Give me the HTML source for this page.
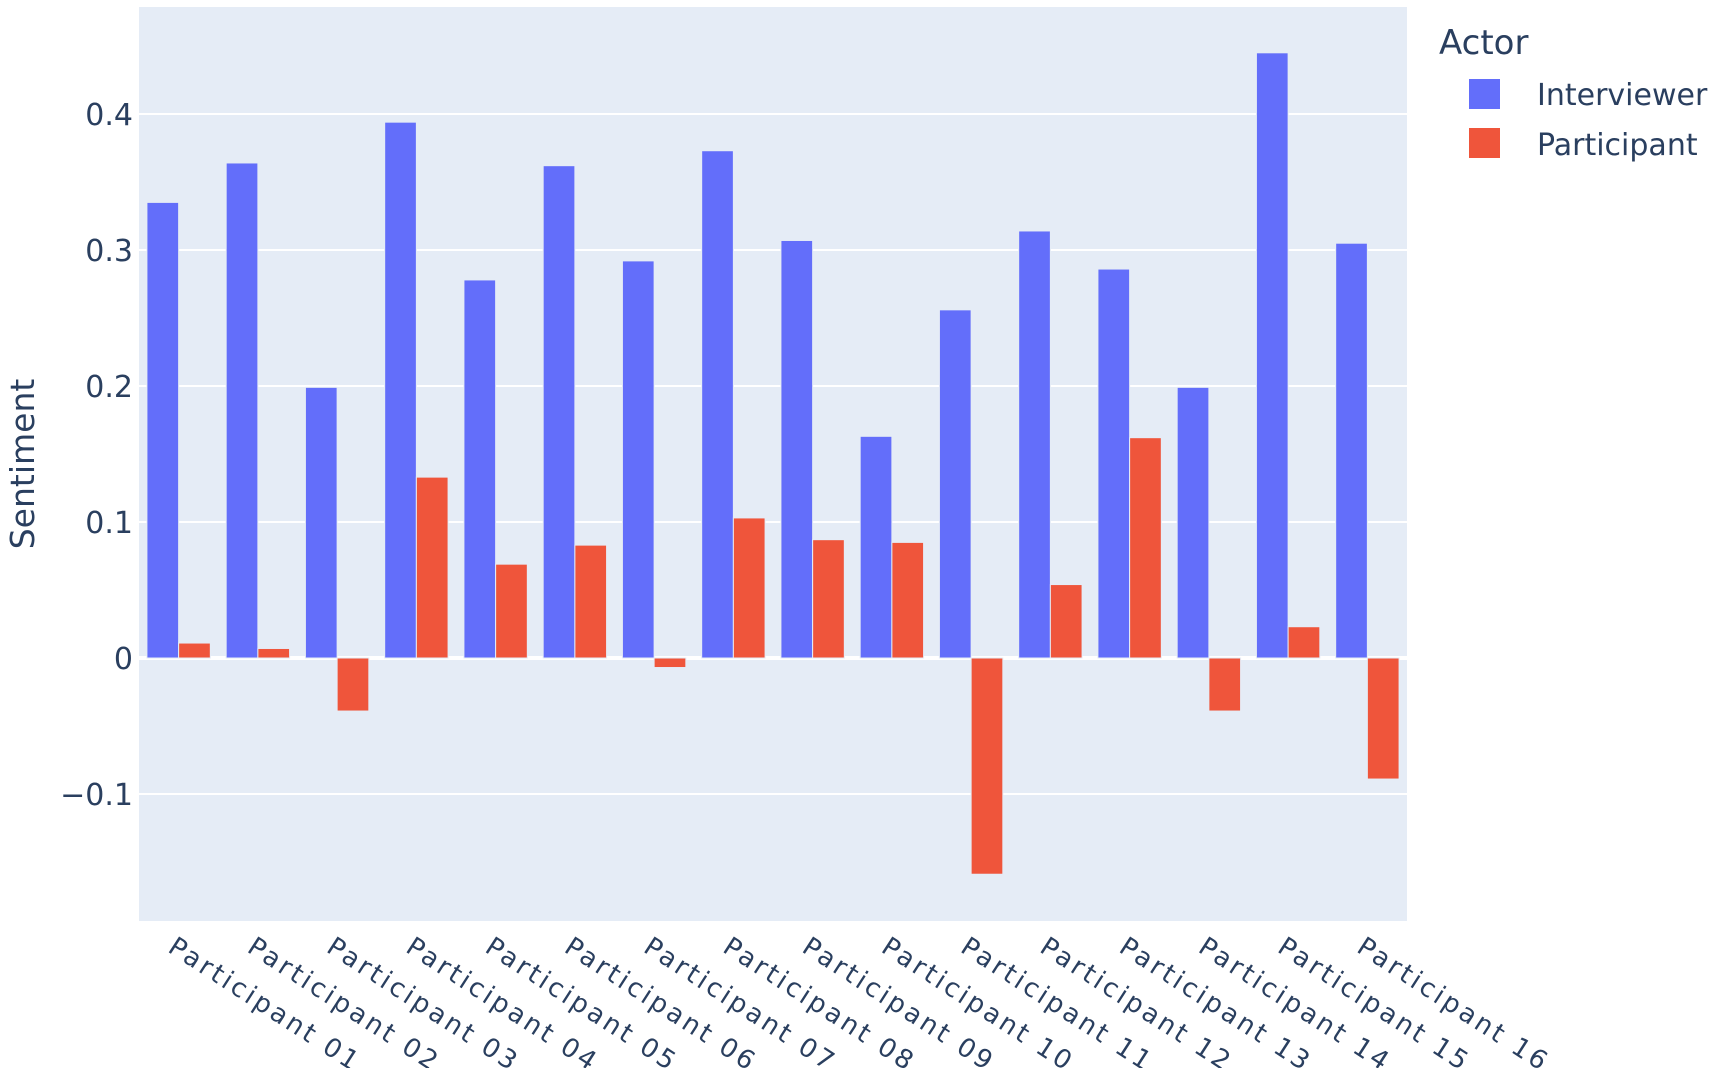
<!DOCTYPE html>
<html><head><meta charset="utf-8"><style>
html,body{margin:0;padding:0;background:#fff;}
svg{display:block;}
text{font-family:"DejaVu Sans","Liberation Sans",sans-serif;fill:#2a3f5f;}
</style></head><body>
<svg width="1725" height="1068" viewBox="0 0 1725 1068" xmlns="http://www.w3.org/2000/svg">
<rect x="139" y="7" width="1268" height="914" fill="#e5ecf6"/>
<g stroke="#fff" stroke-width="2">
<line x1="139" x2="1407" y1="114" y2="114"/>
<line x1="139" x2="1407" y1="250" y2="250"/>
<line x1="139" x2="1407" y1="386" y2="386"/>
<line x1="139" x2="1407" y1="522" y2="522"/>
<line x1="139" x2="1407" y1="794" y2="794"/>
<line x1="139" x2="1407" y1="658" y2="658" stroke-width="4"/>
</g>
<g font-size="30" text-anchor="end">
<text x="133" y="125">0.4</text>
<text x="133" y="261">0.3</text>
<text x="133" y="397">0.2</text>
<text x="133" y="533">0.1</text>
<text x="133" y="669">0</text>
<text x="133" y="805">−0.1</text>
</g>
<text transform="translate(34,464) rotate(-90)" font-size="33" text-anchor="middle">Sentiment</text>
<g id="bars" stroke="#e5ecf6" stroke-width="1"></g>
<g id="xl" font-size="26"></g>
<text x="1439" y="54" font-size="34">Actor</text>
<rect x="1469" y="79" width="31" height="30" fill="#636efa"/>
<rect x="1469" y="128" width="31" height="30" fill="#ef553b"/>
<text x="1537" y="105" font-size="30">Interviewer</text>
<text x="1537" y="155" font-size="30">Participant</text>
<script>
var iv=[.335,.364,.199,.394,.278,.362,.292,.373,.307,.163,.256,.314,.286,.199,.445,.305];
var pv=[.011,.007,-.039,.133,.069,.083,-.007,.103,.087,.085,-.159,.054,.162,-.039,.023,-.089];
var ns="http://www.w3.org/2000/svg",g=document.getElementById('bars'),xl=document.getElementById('xl');
var cw=1268/16,bw=cw*0.4,z=658,s=1360;
function bar(x,v,c){var r=document.createElementNS(ns,'rect');var h=Math.abs(v)*s;r.setAttribute('x',x);r.setAttribute('width',bw);r.setAttribute('y',v>=0?z-h:z);r.setAttribute('height',h);r.setAttribute('fill',c);g.appendChild(r);}
for(var i=0;i<16;i++){var c=139+cw*(i+0.5);bar(c-bw,iv[i],'#636efa');bar(c,pv[i],'#ef553b');
var t=document.createElementNS(ns,'text');var x=c-12,y=951;t.setAttribute('x',x);t.setAttribute('y',y);t.setAttribute('transform','rotate(33 '+x+' '+y+')');t.setAttribute('textLength','220');t.textContent='Participant '+(i<9?'0':'')+(i+1);xl.appendChild(t);}
</script>
</svg>
</body></html>
